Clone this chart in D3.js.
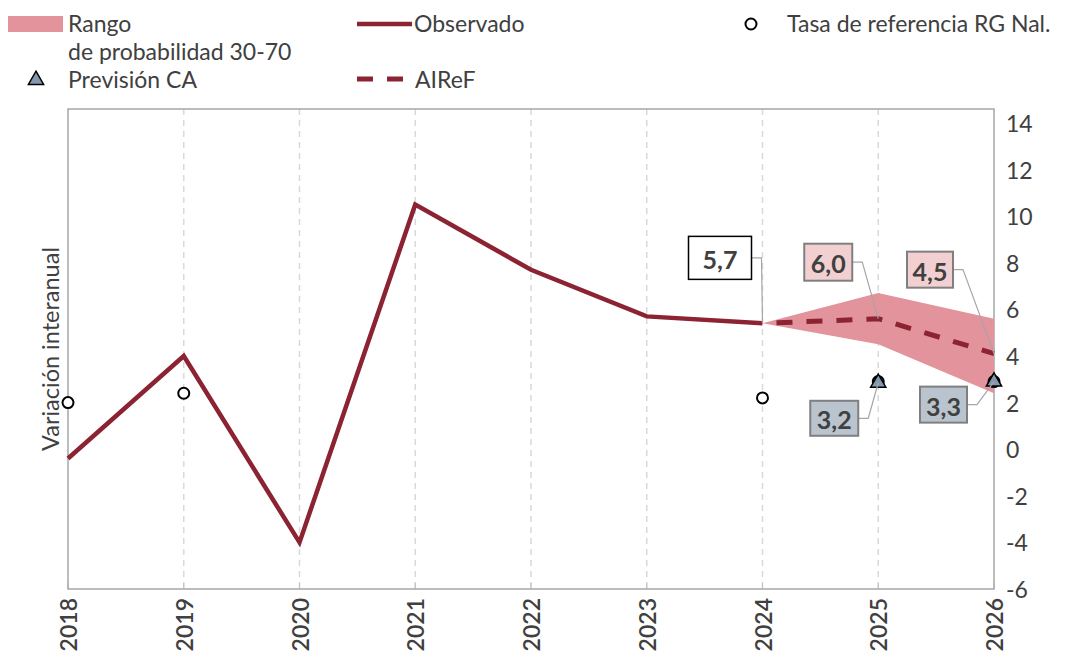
<!DOCTYPE html>
<html>
<head>
<meta charset="utf-8">
<script src="https://cdn.jsdelivr.net/npm/d3@7"></script>
<style>
  body { margin: 0; background: #fff; }
  svg { font-family: Lato, "Open Sans", sans-serif; }
  .txt { fill: #404040; }
</style>
</head>
<body>
<svg id="chart" width="1070" height="655"></svg>
<script>
// data
const years = [2018, 2019, 2020, 2021, 2022, 2023, 2024, 2025, 2026];
const observed = [-0.4, 4.0, -4.0, 10.5, 7.7, 5.7, 5.4];      // 2018-2024
const airefYears = [2024, 2025, 2026];
const airef = [5.4, 5.6, 4.1];
const bandLow = [5.4, 4.5, 2.4];
const bandHigh = [5.4, 6.7, 5.6];
const tasaYears = [2018, 2019, 2024, 2025, 2026];
const tasa = [2.0, 2.4, 2.2, 2.9, 2.9];
const caYears = [2025, 2026];
const previsionCA = [2.85, 2.9];
const yTicks = [-6, -4, -2, 0, 2, 4, 6, 8, 10, 12, 14];

// annotation boxes: label text, year and value they point at
const callouts = [
  {text: '5,7', year: 2024, value: 5.4, kind: 'obs', dx: -74, dy: -87, w: 63, h: 43},
  {text: '6,0', year: 2025, value: 5.6, kind: 'airef', dx: -74, dy: -75, w: 48, h: 37},
  {text: '4,5', year: 2026, value: 4.1, kind: 'airef', dx: -87, dy: -102, w: 46, h: 36},
  {text: '3,2', year: 2025, value: 2.85, kind: 'ca', dx: -68, dy: 18, w: 48, h: 35},
  {text: '3,3', year: 2026, value: 2.9, kind: 'ca', dx: -74, dy: 5, w: 47, h: 36}
];

const RED = '#8b2332';
const BAND = '#e3939c';
const SLATE = '#8497b0';
const fills = {obs: '#fff', airef: '#f2d0d2', ca: '#b9c4cf'};

const svg = d3.select('#chart');
const plotL = 68, plotR = 994, plotT = 109, plotB = 589;

const x = d3.scaleLinear().domain([2018, 2026]).range([plotL, plotR]);
const y = d3.scaleLinear().domain([-6, 14.6]).range([plotB, plotT]);

// vertical dashed gridlines
svg.append('g')
  .selectAll('line')
  .data(years.slice(1, -1))
  .join('line')
  .attr('x1', d => x(d)).attr('x2', d => x(d))
  .attr('y1', plotT).attr('y2', plotB)
  .attr('stroke', '#d9d9d9')
  .attr('stroke-width', 1.5)
  .attr('stroke-dasharray', '6,5');

// small ticks on the bottom edge
svg.append('g')
  .selectAll('line')
  .data(years)
  .join('line')
  .attr('x1', d => x(d)).attr('x2', d => x(d))
  .attr('y1', plotB - 6).attr('y2', plotB)
  .attr('stroke', '#bfbfbf');

// plot frame
svg.append('rect')
  .attr('x', plotL).attr('y', plotT)
  .attr('width', plotR - plotL).attr('height', plotB - plotT)
  .attr('fill', 'none')
  .attr('stroke', '#a6a6a6')
  .attr('stroke-width', 1.5);

// probability band
const bandData = airefYears.map((yr, i) => ({yr, lo: bandLow[i], hi: bandHigh[i]}));
svg.append('path')
  .datum(bandData)
  .attr('fill', BAND)
  .attr('d', d3.area().x(d => x(d.yr)).y0(d => y(d.lo)).y1(d => y(d.hi)));

// observed line
const line = d3.line().x(d => x(d[0])).y(d => y(d[1]));
svg.append('path')
  .datum(observed.map((v, i) => [years[i], v]))
  .attr('fill', 'none')
  .attr('stroke', RED)
  .attr('stroke-width', 4.5)
  .attr('stroke-linejoin', 'miter')
  .attr('d', line);

// AIReF dashed
svg.append('path')
  .datum(airef.map((v, i) => [airefYears[i], v]))
  .attr('fill', 'none')
  .attr('stroke', RED)
  .attr('stroke-width', 5)
  .attr('stroke-dasharray', '16,14')
  .attr('stroke-dashoffset', -14)
  .attr('d', line);

// tasa de referencia circles
svg.append('g')
  .selectAll('circle')
  .data(tasa.map((v, i) => [tasaYears[i], v]))
  .join('circle')
  .attr('cx', d => x(d[0])).attr('cy', d => y(d[1]))
  .attr('r', 5.5)
  .attr('fill', '#fff')
  .attr('stroke', '#000')
  .attr('stroke-width', 2);

// previsión CA triangles
const tri = d3.symbol().type(d3.symbolTriangle).size(100);
svg.append('g')
  .selectAll('path')
  .data(previsionCA.map((v, i) => [caYears[i], v]))
  .join('path')
  .attr('transform', d => `translate(${x(d[0])},${y(d[1])})`)
  .attr('d', tri)
  .attr('fill', SLATE)
  .attr('stroke', '#000')
  .attr('stroke-width', 1.5);

// callouts
const cg = svg.append('g')
  .selectAll('g')
  .data(callouts)
  .join('g');
cg.append('polyline')
  .attr('points', d => {
    const px = x(d.year), py = y(d.value);
    const bx = px + d.dx, by = py + d.dy;
    return [[bx + d.w, by + d.h / 2], [bx + d.w + 10, by + d.h / 2], [px, py]].join(' ');
  })
  .attr('fill', 'none')
  .attr('stroke', '#a6a6a6')
  .attr('stroke-width', 1.2);
cg.append('rect')
  .attr('x', d => x(d.year) + d.dx)
  .attr('y', d => y(d.value) + d.dy)
  .attr('width', d => d.w).attr('height', d => d.h)
  .attr('fill', d => fills[d.kind])
  .attr('stroke', d => d.kind === 'obs' ? '#000' : '#7f7f7f')
  .attr('stroke-width', d => d.kind === 'obs' ? 1.5 : 2);
cg.append('text')
  .attr('class', 'txt')
  .attr('x', d => x(d.year) + d.dx + d.w / 2)
  .attr('y', d => y(d.value) + d.dy + d.h / 2 + 1)
  .attr('text-anchor', 'middle')
  .attr('dominant-baseline', 'central')
  .attr('font-size', 25)
  .attr('font-weight', 700)
  .text(d => d.text);

// right y axis labels
svg.append('g')
  .selectAll('text')
  .data(yTicks)
  .join('text')
  .attr('class', 'txt')
  .attr('x', 1006)
  .attr('y', d => y(d))
  .attr('dominant-baseline', 'central')
  .attr('font-size', 23)
  .text(d => d);

// year labels, rotated
svg.append('g')
  .selectAll('text')
  .data(years)
  .join('text')
  .attr('class', 'txt')
  .attr('transform', d => `translate(${x(d)},598) rotate(-90)`)
  .attr('text-anchor', 'end')
  .attr('dominant-baseline', 'central')
  .attr('font-size', 23)
  .attr('font-weight', 600)
  .text(d => d);

// y axis title
svg.append('text')
  .attr('class', 'txt')
  .attr('transform', 'translate(50,349) rotate(-90)')
  .attr('text-anchor', 'middle')
  .attr('dominant-baseline', 'central')
  .attr('font-size', 23.5)
  .text('Variación interanual');

// legend
const lg = svg.append('g').attr('font-size', 23);
lg.append('rect').attr('x', 8).attr('y', 16).attr('width', 55).attr('height', 16).attr('fill', BAND);
lg.append('text').attr('class', 'txt').attr('x', 68).attr('y', 32).text('Rango');
lg.append('text').attr('class', 'txt').attr('x', 68).attr('y', 60).text('de probabilidad 30-70');
lg.append('path').attr('transform', 'translate(36,80)').attr('d', tri)
  .attr('fill', SLATE).attr('stroke', '#000').attr('stroke-width', 1.5);
lg.append('text').attr('class', 'txt').attr('x', 68).attr('y', 88).text('Previsión CA');

lg.append('line').attr('x1', 357).attr('x2', 412).attr('y1', 24).attr('y2', 24)
  .attr('stroke', RED).attr('stroke-width', 4.5);
lg.append('text').attr('class', 'txt').attr('x', 414).attr('y', 32).text('Observado');
lg.append('line').attr('x1', 357).attr('x2', 406).attr('y1', 79).attr('y2', 79)
  .attr('stroke', RED).attr('stroke-width', 5).attr('stroke-dasharray', '16,14');
lg.append('text').attr('class', 'txt').attr('x', 415).attr('y', 88).text('AIReF');

lg.append('circle').attr('cx', 751).attr('cy', 24).attr('r', 5.5)
  .attr('fill', '#fff').attr('stroke', '#000').attr('stroke-width', 2);
lg.append('text').attr('class', 'txt').attr('x', 787).attr('y', 32).text('Tasa de referencia RG Nal.');
</script>
</body>
</html>
